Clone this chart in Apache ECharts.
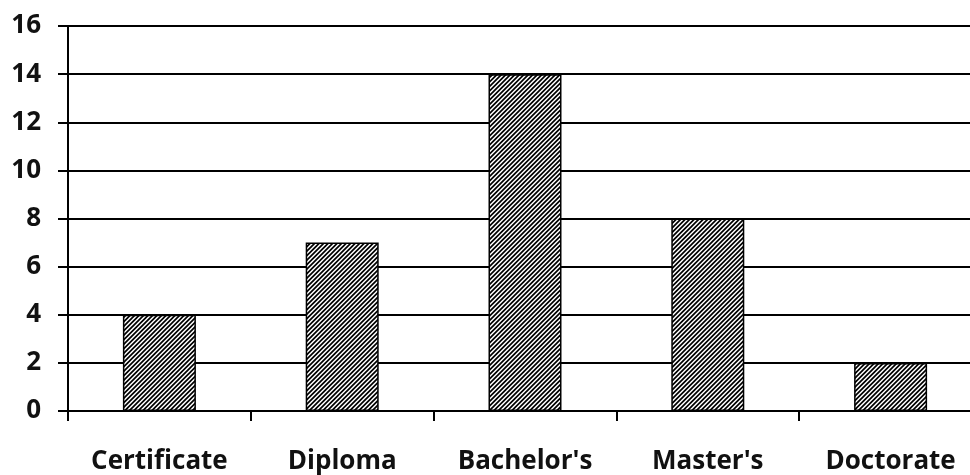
<!DOCTYPE html>
<html>
<head>
<meta charset="utf-8">
<script src="https://cdn.jsdelivr.net/npm/echarts@6/dist/echarts.min.js"></script>
<style>
  html, body { margin: 0; padding: 0; background: #fff; overflow: hidden; }
  #chart { width: 982px; height: 475px; }
</style>
</head>
<body>
<div id="chart"></div>
<script>
const categories = ['Certificate', 'Diploma', "Bachelor's", "Master's", 'Doctorate']
const counts = [4, 7, 14, 8, 2]

// diagonal hatch tile for the bars (two stripes per 9px tile)
function hatch() {
  const p = 9
  const c = document.createElement('canvas')
  c.width = p
  c.height = p
  const ctx = c.getContext('2d')
  ctx.fillStyle = '#fff'
  ctx.fillRect(0, 0, p, p)
  ctx.strokeStyle = '#000'
  ctx.lineWidth = 1.7
  ctx.beginPath()
  ;[0, 4.5, 9, 13.5, 18].forEach(function(s) {
    ctx.moveTo(s - p - 2, p + 2)
    ctx.lineTo(s + 2, -2)
  })
  ctx.stroke()
  return c
}

const font = { fontFamily: 'Open Sans', fontWeight: 'bold', fontSize: 26, color: '#111' }

const chart = echarts.init(document.getElementById('chart'))
chart.setOption({
  animation: false,
  grid: { left: 68, top: 26, bottom: 61, right: 0 },
  xAxis: {
    type: 'category',
    data: categories,
    axisLine: { lineStyle: { color: '#000', width: 2 } },
    axisTick: { show: true, length: 10, lineStyle: { color: '#000', width: 2 } },
    axisLabel: Object.assign({ margin: 38 }, font)
  },
  yAxis: {
    type: 'value',
    min: 0,
    max: 16,
    interval: 2,
    axisLine: { show: true, lineStyle: { color: '#000', width: 2 } },
    axisTick: { show: true, length: 10, lineStyle: { color: '#000', width: 2 } },
    axisLabel: Object.assign({ margin: 27 }, font),
    splitLine: { lineStyle: { color: '#000', width: 2 } }
  },
  series: [{
    type: 'bar',
    data: counts,
    barWidth: 73,
    itemStyle: {
      color: { image: hatch(), repeat: 'repeat' },
      borderColor: '#000',
      borderWidth: 1.5
    }
  }]
})
</script>
</body>
</html>
